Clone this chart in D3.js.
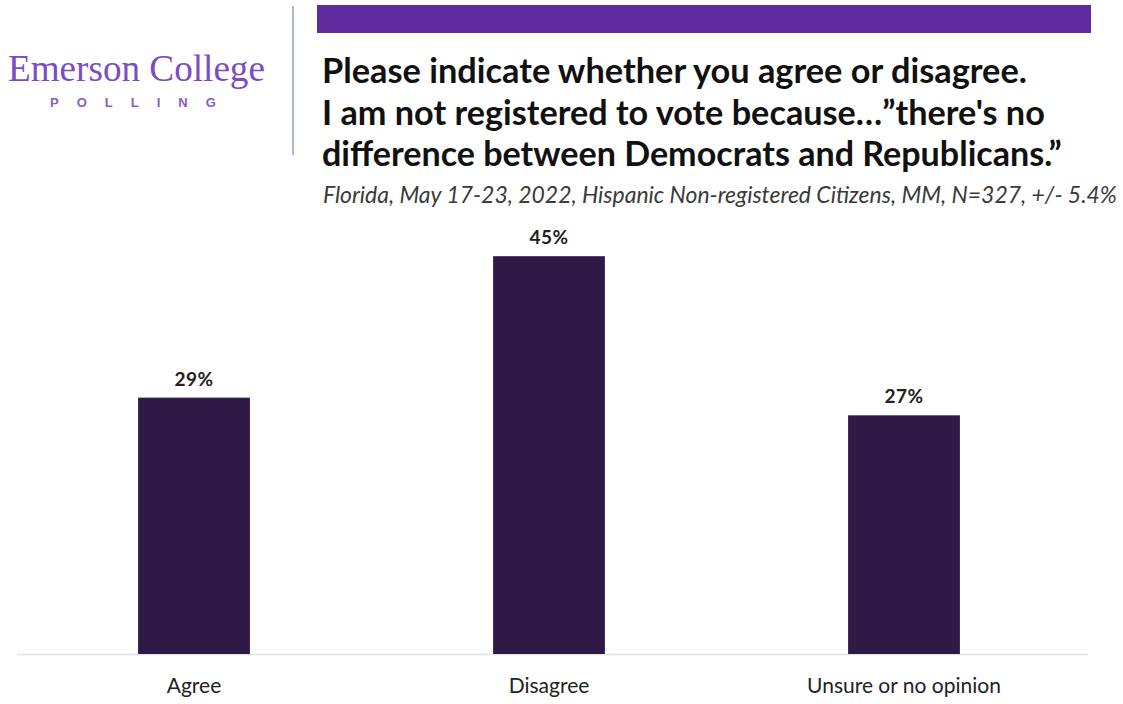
<!DOCTYPE html>
<html>
<head>
<meta charset="utf-8">
<script src="https://cdn.jsdelivr.net/npm/d3@7"></script>
<style>
  html, body { margin: 0; padding: 0; background: #fff; }
  svg { display: block; }
</style>
</head>
<body>
<svg id="chart" width="1123" height="704"></svg>
<script>
const categories = ["Agree", "Disagree", "Unsure or no opinion"];
const values = [29, 45, 27];
const valueLabels = ["29%", "45%", "27%"];
const titleLines = [
  "Please indicate whether you agree or disagree.",
  "I am not registered to vote because\u2026\u201dthere's no",
  "difference between Democrats and Republicans.\u201d"
];
const subtitle = "Florida, May 17-23, 2022, Hispanic Non-registered Citizens, MM, N=327, +/- 5.4%";

const svg = d3.select("#chart");

function fit(sel, target) {
  const node = sel.node();
  const fs = parseFloat(sel.attr("font-size"));
  const w = node.getComputedTextLength();
  if (w > 0) sel.attr("font-size", (fs * target / w).toFixed(2));
}

// Logo
const logo = svg.append("text").attr("x", 8).attr("y", 81)
  .attr("font-family", "'Liberation Serif', 'DejaVu Serif', serif")
  .attr("font-size", 31).attr("fill", "#7d4cc4").text("Emerson College");
fit(logo, 257);
svg.append("text").attr("x", 50).attr("y", 107)
  .attr("font-family", "'Liberation Sans', Arial, sans-serif")
  .attr("font-size", 13).attr("font-weight", "bold")
  .attr("letter-spacing", 18).attr("fill", "#8b5bd0").text("POLLING");

// Divider
svg.append("line").attr("x1", 293).attr("x2", 293).attr("y1", 6).attr("y2", 155)
  .attr("stroke", "#8ea2c4").attr("stroke-width", 1.5);

// Purple band
svg.append("rect").attr("x", 317).attr("y", 5).attr("width", 774).attr("height", 28)
  .attr("fill", "#5f2a9e");

// Title
const titleWidths = [705, 723, 740];
titleLines.forEach((t, i) => {
  const s = svg.append("text").attr("x", 322).attr("y", 83 + i * 41.5)
    .attr("font-family", "Lato, 'Open Sans', sans-serif")
    .attr("font-weight", "bold").attr("font-size", 29).attr("fill", "#111")
    .text(t);
  fit(s, titleWidths[i]);
});

const sub = svg.append("text").attr("x", 323).attr("y", 203)
  .attr("font-family", "Lato, 'Open Sans', sans-serif")
  .attr("font-style", "italic").attr("font-size", 17).attr("fill", "#3a3a3a")
  .text(subtitle);
fit(sub, 794);

// Chart
const x = d3.scaleBand().domain(categories).range([16.5, 1081.5]).paddingInner(0.685).paddingOuter(0.3425);
const y = d3.scaleLinear().domain([0, 50]).range([654, 212]);

svg.append("line").attr("x1", 17).attr("x2", 1088).attr("y1", 654.5).attr("y2", 654.5)
  .attr("stroke", "#e3e3e3").attr("stroke-width", 1.5);

const data = categories.map((c, i) => ({ c, v: values[i], l: valueLabels[i] }));

svg.selectAll("rect.bar").data(data).join("rect").attr("class", "bar")
  .attr("x", d => x(d.c)).attr("width", x.bandwidth())
  .attr("y", d => y(d.v)).attr("height", d => y(0) - y(d.v))
  .attr("fill", "#2f1a47");

svg.selectAll("text.val").data(data).join("text").attr("class", "val")
  .attr("x", d => x(d.c) + x.bandwidth() / 2).attr("y", d => y(d.v) - 12)
  .attr("text-anchor", "middle")
  .attr("font-family", "Lato, 'Open Sans', sans-serif")
  .attr("font-weight", "bold").attr("font-size", 19).attr("letter-spacing", 0.5)
  .attr("fill", "#222")
  .text(d => d.l);

const xAxis = svg.append("g").attr("transform", "translate(0,654)")
  .call(d3.axisBottom(x).tickSize(0).tickPadding(24));
xAxis.select(".domain").remove();
xAxis.selectAll("text")
  .attr("font-family", "Lato, 'Open Sans', sans-serif")
  .attr("font-size", 21).attr("fill", "#222");
</script>
</body>
</html>
